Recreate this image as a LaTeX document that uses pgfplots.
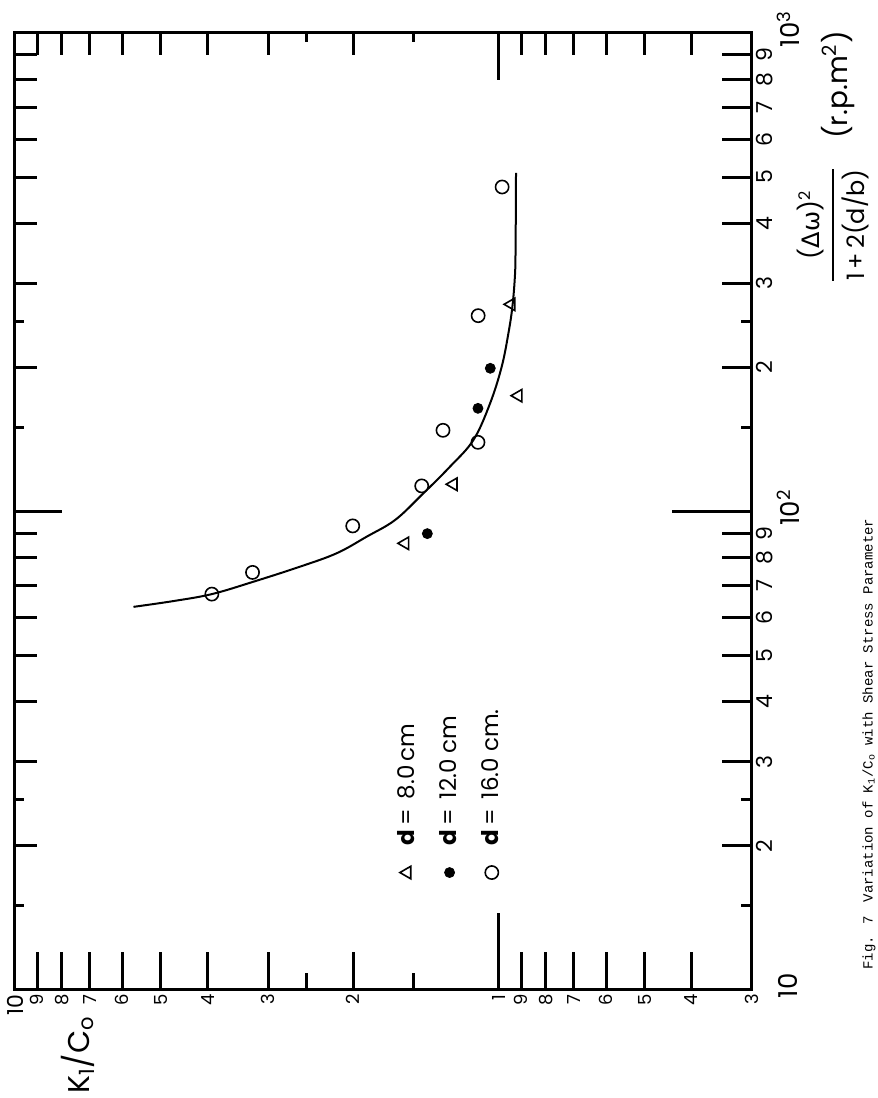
\documentclass[border=0pt]{standalone}
\usepackage{pgfplots}
\pgfplotsset{compat=1.18}
\usepackage{graphicx}
\usepackage{amsmath}
\usepackage{fontspec}
\setmainfont{Poppins}
\newfontfamily\dv{DejaVu Sans}
\newfontfamily\mono{Liberation Mono}
\newcommand\R[1]{\rotatebox{90}{#1}}

\pgfplotsset{
  x dir=reverse,
  xmin=0.3, xmax=10, ymin=10, ymax=1000,
  scale only axis, width=368.5pt, height=478.5pt,
  tick align=inside,
  tick style={black, line width=1.5pt},
  clip=false,
  legmark/.style={legend image code/.code={\draw[##1,overlay] plot coordinates {(7pt,-10pt)};}},
}

\begin{document}
\begin{tikzpicture}
\path[use as bounding box] (0,0) rectangle (439pt,549pt);

% ---- bottom ticks (K1/C0 axis), regular + short
\begin{loglogaxis}[at={(7.5pt,54pt)}, anchor=south west,
  axis line style={draw=none}, xticklabels={}, yticklabels={},
  xtick pos=left, ytick=\empty,
  xtick={0.4,0.5,0.6,0.7,0.8,0.9,2,3,4,5,6,7,8,9},
  minor xtick={1.5,2.5},
  major tick length=19pt, minor tick length=8.5pt]
\end{loglogaxis}
% ---- bottom long tick at 1
\begin{loglogaxis}[at={(7.5pt,54pt)}, anchor=south west,
  axis line style={draw=none}, xticklabels={}, yticklabels={},
  xtick pos=left, ytick=\empty,
  xtick={1}, minor tick style={draw=none},
  major tick length=38.5pt]
\end{loglogaxis}
% ---- top ticks and left ticks (mirrored), regular + short
\begin{loglogaxis}[at={(7.5pt,54pt)}, anchor=south west,
  axis line style={draw=none}, xticklabels={}, yticklabels={},
  xtick pos=right, ytick pos=left,
  xtick={0.4,0.5,0.6,0.7,0.8,0.9,2,3,4,5,6,7,8,9},
  minor xtick={1.5,2.5},
  ytick={20,30,40,50,60,70,80,90,200,300,400,500,600,700,800,900},
  minor ytick={15,25,150,250},
  major tick length=11pt, minor tick length=4.5pt]
\end{loglogaxis}
% ---- top long tick at 1 and left long tick at 100
\begin{loglogaxis}[at={(7.5pt,54pt)}, anchor=south west,
  axis line style={draw=none}, xticklabels={}, yticklabels={},
  xtick pos=right, ytick pos=left,
  xtick={1}, ytick={100}, minor tick style={draw=none},
  major tick length=23.5pt]
\end{loglogaxis}
% ---- right ticks (shear parameter axis), regular + short
\begin{loglogaxis}[at={(7.5pt,54pt)}, anchor=south west,
  axis line style={draw=none}, xticklabels={}, yticklabels={},
  ytick pos=right, xtick=\empty,
  ytick={20,30,40,50,60,70,80,90,200,300,400,500,600,700,800,900},
  minor ytick={15,25,150,250},
  major tick length=15pt, minor tick length=5.5pt]
\end{loglogaxis}
% ---- right long tick at 100
\begin{loglogaxis}[at={(7.5pt,54pt)}, anchor=south west,
  axis line style={draw=none}, xticklabels={}, yticklabels={},
  ytick pos=right, xtick=\empty,
  ytick={100}, minor tick style={draw=none},
  major tick length=40pt]
\end{loglogaxis}

% ---- main axis: frame, labels, data
\begin{loglogaxis}[at={(7.5pt,54pt)}, anchor=south west,
  axis line style={line width=1.5pt},
  tick style={draw=none},
  xtick pos=left,
  xtick={0.3,0.4,0.5,0.6,0.7,0.8,0.9,1,2,3,4,5,6,7,8,9},
  xticklabels={\R{3},\R{4},\R{5},\R{6},\R{7},\R{8},\R{9},\R{1},\R{2},\R{3},\R{4},\R{5},\R{6},\R{7},\R{8},\R{9}},
  xticklabel style={anchor=north, inner sep=2pt, font=\fontsize{9}{9}\selectfont},
  extra x ticks={10}, extra x tick labels={\R{10}},
  extra x tick style={xticklabel style={font=\fontsize{11}{11}\selectfont}},
  ytick pos=right, yticklabel pos=right,
  ytick={20,30,40,50,60,70,80,90,200,300,400,500,600,700,800,900},
  yticklabels={\R{2},\R{3},\R{4},\R{5},\R{6},\R{7},\R{8},\R{9},\R{2},\R{3},\R{4},\R{5},\R{6},\R{7},\R{8},\R{9}},
  yticklabel style={anchor=west, inner sep=2pt, font=\fontsize{11}{11}\selectfont},
  extra y ticks={10,100,1000},
  extra y tick labels={\R{10},\R{10\textsuperscript{2}},\R{10\textsuperscript{3}}},
  extra y tick style={yticklabel style={anchor=center, xshift=18pt, yshift=2pt, font=\fontsize{13}{13}\selectfont}},
  legend columns=-1,
  legend cell align=left,
  legend style={draw=none, fill=none, inner sep=0pt, column sep=0pt,
    at={(axis description cs:0.5125,0.1432)}, anchor=south west,
    font=\fontsize{11.5}{11.5}\selectfont,
    cells={anchor=south, inner sep=1pt},
    /tikz/every even column/.append style={column sep=8.5pt}},
]
% fitted curve
\addplot[smooth, tension=0.6, black, line width=1pt, no marks, forget plot] coordinates {
 (5.69,63.2) (4.70,65.0) (3.92,67.2) (3.22,71.3) (2.576,76.7) (2.164,81.8)
 (1.876,88.6) (1.639,96.0) (1.444,108.3) (1.262,124.1) (1.129,141.1)
 (1.043,168.3) (0.987,200.7) (0.956,235.7) (0.938,267.9) (0.927,309.5)
 (0.924,352) (0.922,510)
};
% d = 8.0 cm
\addplot[only marks, black, mark=triangle, mark size=3.6pt,
  mark options={rotate=90, line width=0.8pt}, legmark]
  coordinates {(1.563,85.8) (1.242,114.0) (0.912,174.6) (0.943,271)};
\addlegendentry{\R{\textbf{d}\,=\, 8.0\,cm}}
% d = 12.0 cm
\addplot[only marks, black, mark=*, mark size=2.5pt, legmark]
  coordinates {(1.406,89.9) (1.105,164.3) (1.042,199.2)};
\addlegendentry{\R{\textbf{d}\,=\, 12.0 cm}}
% d = 16.0 cm
\addplot[only marks, black, mark=o, mark size=3.3pt, mark options={line width=0.8pt}, legmark]
  coordinates {(3.92,67.2) (3.23,74.6) (2.005,93.3) (1.444,113.1) (1.305,147.8)
   (1.105,139.5) (1.104,256.6) (0.985,476.6)};
\addlegendentry{\R{\textbf{d}\,=\, 16.0 cm.}}
\end{loglogaxis}

% axis titles and caption
\node[inner sep=0] at (39pt,21.5pt)
  {\R{\fontsize{15}{15}\selectfont K\textsubscript{1}/C\textsubscript{o}}};
\node[inner sep=0] at (416.5pt,436.5pt)
  {\R{\fontsize{12}{12}\selectfont $\genfrac{}{}{1.3pt}{0}{\mbox{({\dv Δω})\textsuperscript{2}}}{\mbox{1\,+\,2(d/b)}}$}};
\node[inner sep=0] at (419pt,506.5pt)
  {\R{\fontsize{14}{14}\selectfont (r.p.m\textsuperscript{2})}};
\node[inner sep=0, anchor=south east] at (438pt,64pt)
  {\R{\mono\fontsize{7}{8}\selectfont Fig. 7\quad Variation of K\textsubscript{1}/C\textsubscript{o} with Shear Stress Parameter}};
\end{tikzpicture}
\end{document}
